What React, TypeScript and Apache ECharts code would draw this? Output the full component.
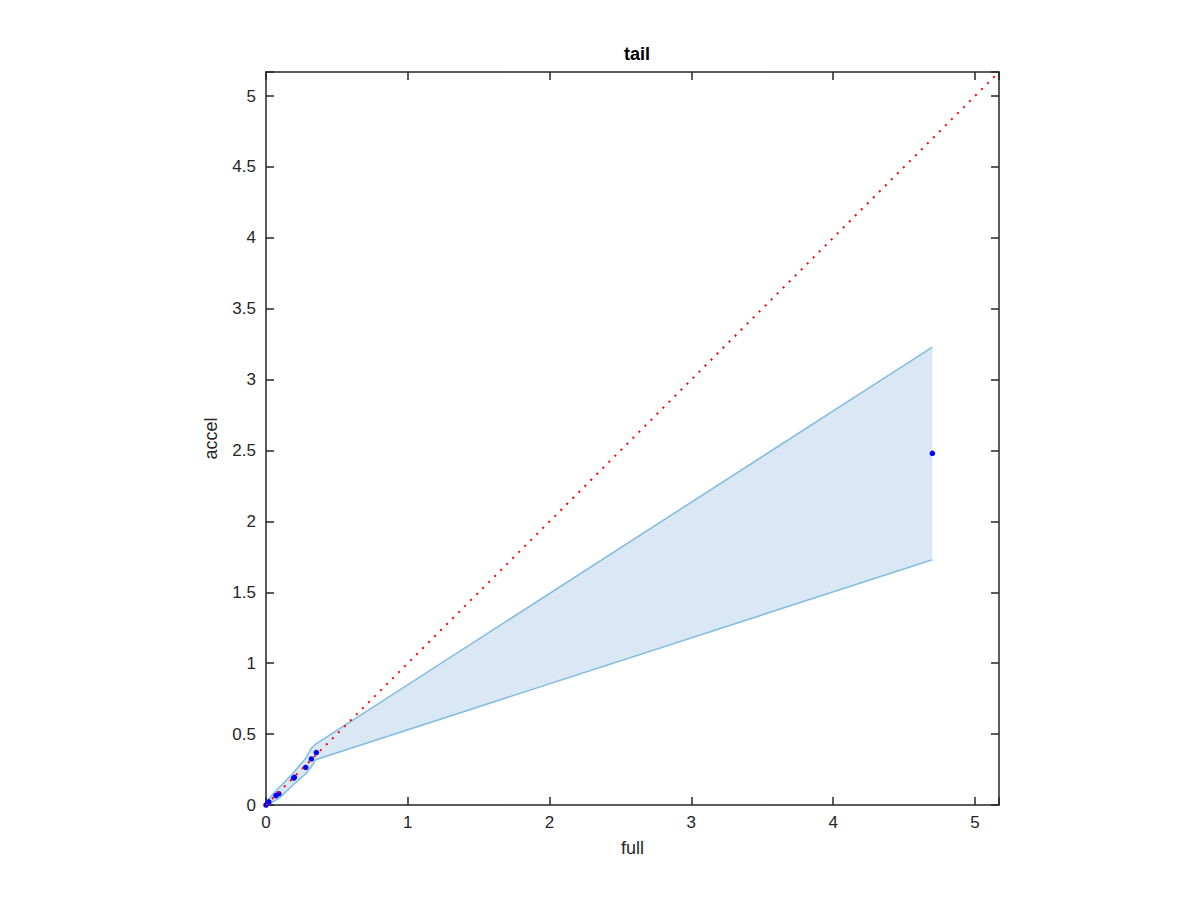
import React, { useEffect, useRef } from "react";
import * as echarts from "echarts";

const TITLE = "tail";
const X_NAME = "full";
const Y_NAME = "accel";

// observed points
const X_FULL = [0, 0.02, 0.07, 0.09, 0.195, 0.2, 0.28, 0.32, 0.355, 4.7];
const Y_ACCEL = [0, 0.022, 0.066, 0.08, 0.19, 0.195, 0.265, 0.325, 0.37, 2.48];

// confidence band
const BAND_X = [0, 0.02, 0.07, 0.09, 0.2, 0.28, 0.32, 0.35, 4.7];
const BAND_HIGH = [0.005, 0.045, 0.1, 0.12, 0.235, 0.33, 0.4, 0.43, 3.23];
const BAND_LOW = [0, 0.005, 0.035, 0.045, 0.15, 0.22, 0.27, 0.32, 1.73];

// identity reference line
const DIAG = [0, 5.17];

const AXIS_MIN = 0;
const AXIS_MAX = 5.17;
const X_TICK = 1;
const Y_TICK = 0.5;

const FONT = "'Liberation Sans', Arial, Helvetica, sans-serif";
const INK = "#262626";
const BAND_LINE = "#86bde0";
const BAND_FILL = "#d9e8f4";

function fmt(v: number, step: number) {
  const k = Math.round(v / step);
  if (Math.abs(k * step - v) > 1e-6) return "";
  return String(+v.toFixed(2));
}

export default function App() {
  const ref = useRef<HTMLDivElement>(null);

  useEffect(() => {
    if (!ref.current) return;
    const chart = echarts.init(ref.current, undefined, { renderer: "svg" });

    const axisCommon = {
      type: "value" as const,
      min: AXIS_MIN,
      max: AXIS_MAX,
      splitLine: { show: false },
      axisLine: { show: true, onZero: false, lineStyle: { color: INK, width: 1.5 } },
      axisTick: { show: true, inside: true, length: 8, lineStyle: { color: INK, width: 1.5 } },
    };

    const pts = X_FULL.map((x, i) => [x, Y_ACCEL[i]]);
    const bandData = BAND_X.map((x, i) => [x, BAND_LOW[i], BAND_HIGH[i]]);

    chart.setOption({
      animation: false,
      backgroundColor: "#ffffff",
      title: {
        text: TITLE,
        left: 632,
        textAlign: "center",
        top: 40,
        textStyle: { fontFamily: FONT, fontSize: 18, fontWeight: "bold", color: "#000" },
      },
      grid: { left: 266, top: 72, width: 733, height: 733 },
      xAxis: [
        {
          ...axisCommon,
          interval: X_TICK,
          position: "bottom",
          name: X_NAME,
          nameLocation: "middle",
          nameGap: 34,
          nameTextStyle: { fontFamily: FONT, fontSize: 18, color: INK },
          axisLabel: {
            margin: 9,
            fontFamily: FONT,
            fontSize: 17,
            color: INK,
            formatter: (v: number) => fmt(v, X_TICK),
          },
        },
        {
          ...axisCommon,
          interval: X_TICK,
          position: "top",
          axisLabel: { show: false },
        },
      ],
      yAxis: [
        {
          ...axisCommon,
          interval: Y_TICK,
          position: "left",
          name: Y_NAME,
          nameLocation: "middle",
          nameGap: 46,
          nameTextStyle: { fontFamily: FONT, fontSize: 18, color: INK },
          axisLabel: {
            margin: 10,
            fontFamily: FONT,
            fontSize: 17,
            color: INK,
            formatter: (v: number) => fmt(v, Y_TICK),
          },
        },
        {
          ...axisCommon,
          interval: Y_TICK,
          position: "right",
          axisLabel: { show: false },
        },
      ],
      series: [
        {
          type: "custom",
          data: bandData,
          encode: { x: 0, y: [1, 2] },
          clip: true,
          z: 1,
          renderItem: (params: any, api: any) => {
            if (params.dataIndex !== 0) return null;
            const lowPts = bandData.map((d) => api.coord([d[0], d[1]]));
            const highPts = bandData.map((d) => api.coord([d[0], d[2]]));
            const poly = highPts.concat(lowPts.slice().reverse());
            return {
              type: "group",
              children: [
                {
                  type: "polygon",
                  shape: { points: poly },
                  style: { fill: BAND_FILL, stroke: null },
                },
                {
                  type: "polyline",
                  shape: { points: highPts },
                  style: { fill: null, stroke: BAND_LINE, lineWidth: 1.6 },
                },
                {
                  type: "polyline",
                  shape: { points: lowPts },
                  style: { fill: null, stroke: BAND_LINE, lineWidth: 1.6 },
                },
              ],
            };
          },
        },
        {
          type: "scatter",
          data: pts,
          symbol: "circle",
          symbolSize: 5.5,
          itemStyle: { color: "#0000ff", opacity: 1 },
          z: 3,
        },
        {
          type: "line",
          data: DIAG.map((v) => [v, v]),
          showSymbol: false,
          symbol: "none",
          lineStyle: { color: "#ff0000", width: 2, type: [2, 6.5] },
          z: 4,
        },
      ],
    });

    return () => chart.dispose();
  }, []);

  return (
    <div
      ref={ref}
      style={{ position: "fixed", left: 0, top: 0, width: 1200, height: 900, background: "#fff" }}
    />
  );
}
